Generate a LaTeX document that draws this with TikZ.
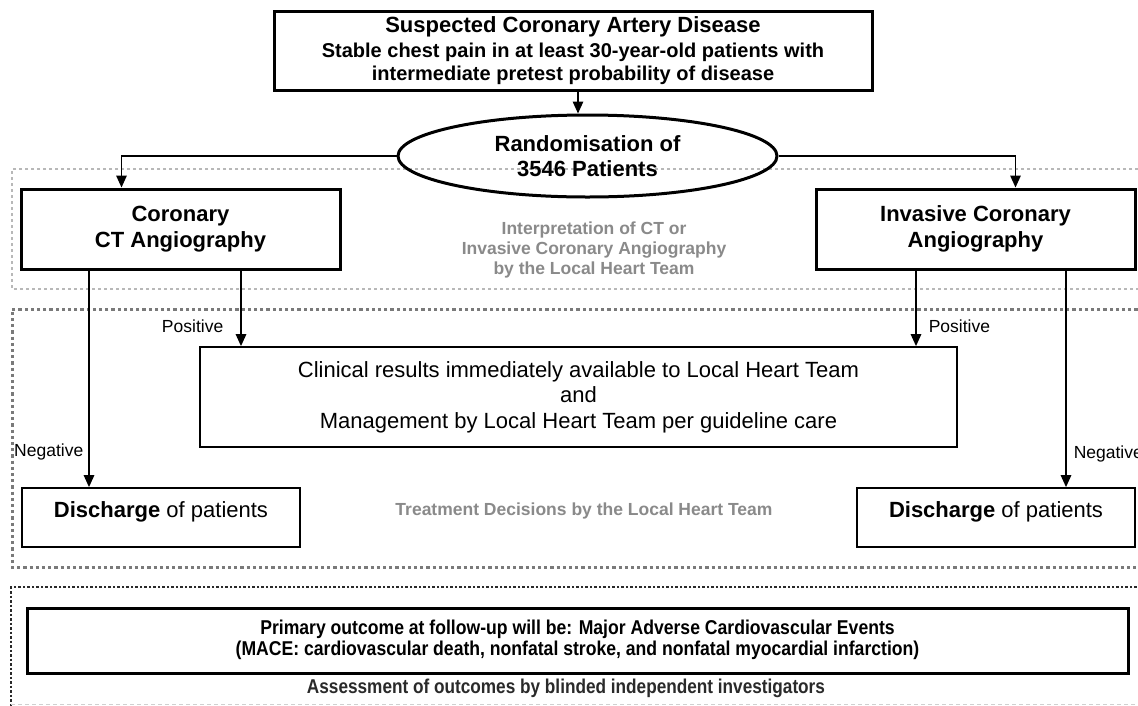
\documentclass[tikz,border=0pt]{standalone}
\usepackage{fontspec}
\setmainfont{Liberation Sans}
\usepackage{graphicx}
\usetikzlibrary{arrows.meta,shapes.geometric}
\definecolor{txtgray}{HTML}{8A8A8A}
\definecolor{lightdot}{HTML}{B8B8B8}
\definecolor{darkdot}{HTML}{7A7A7A}
\definecolor{blackdot}{HTML}{2A2A2A}
\definecolor{faintdash}{HTML}{D0D0D0}
\begin{document}
\begin{tikzpicture}[x=1pt,y=-1pt,
  thickbox/.style={draw, rectangle, line width=3pt, inner sep=0pt, align=center},
  thinbox/.style={draw, rectangle, line width=1.8pt, inner sep=0pt, align=center},
  arr/.style={line width=1.5pt, -{Triangle[length=12pt,width=10.5pt]}},
  lbl/.style={inner sep=0pt, font=\fontsize{17.5}{20}\selectfont},
  graytxt/.style={align=center, text=txtgray, font=\fontsize{17.5}{20}\selectfont\bfseries},
  bigbold/.style={font=\fontsize{22}{26}\selectfont\bfseries}]
\useasboundingbox (0,0) rectangle (1138,705);
\fill[white] (0,0) rectangle (1138,705);

% group frames
\draw[lightdot, line width=2pt, dash pattern=on 3pt off 3pt] (1150,169) -- (12,169) -- (12,289) -- (1150,289);
\draw[darkdot, line width=3pt, dash pattern=on 3.2pt off 3pt] (1150,309) -- (12,309) -- (12,567) -- (1150,567);
\draw[blackdot, line width=2.5pt, dash pattern=on 2.5pt off 2pt] (1150,587) -- (11,587) -- (11,710);
\draw[faintdash, line width=1pt, dash pattern=on 4pt off 3pt] (11,704) -- (1150,704);

% nodes
\node[thickbox, minimum width=598, minimum height=79, font=\fontsize{20}{23}\selectfont\bfseries] (susp) at (573,50.5)
  {{\fontsize{22}{23}\selectfont Suspected Coronary Artery Disease}\\[1.5pt]
   Stable chest pain in at least 30-year-old patients with\\
   intermediate pretest probability of disease};
\node[ellipse, draw, line width=3pt, minimum width=379, minimum height=82, inner sep=0pt,
  align=center, font=\fontsize{22}{25}\selectfont\bfseries] (rnd) at (587.5,156)
  {Randomisation of\\3546 Patients};
\node[thickbox, bigbold, minimum width=319, minimum height=80] (ct) at (180.5,229)
  {Coronary\\CT Angiography};
\node[thickbox, bigbold, minimum width=319, minimum height=80] (ica) at (975.5,229)
  {Invasive Coronary\\Angiography};
\node[graytxt] (interp) at (594,250)
  {Interpretation of CT or\\Invasive Coronary Angiography\\by the Local Heart Team};
\node[thinbox, minimum width=757, minimum height=100, font=\fontsize{22}{25.5}\selectfont] (clin) at (578.5,397)
  {Clinical results immediately available to Local Heart Team\\and\\Management by Local Heart Team per guideline care};
\node[thinbox, minimum width=278, minimum height=59] (dl) at (161,517.5) {};
\node[font=\fontsize{22}{25}\selectfont, inner sep=0pt] (dlt) at ([yshift=6pt]dl.center) {\textbf{Discharge} of patients};
\node[thinbox, minimum width=278, minimum height=59] (dr) at (996,517.5) {};
\node[font=\fontsize{22}{25}\selectfont, inner sep=0pt] (drt) at ([yshift=6pt]dr.center) {\textbf{Discharge} of patients};
\node[graytxt] (treat) at (584,511) {Treatment Decisions by the Local Heart Team};
\node[thickbox, minimum width=1101, minimum height=65] (outc) at (577.5,640.5)
  {\scalebox{0.88}[1]{\fontsize{20}{21}\selectfont\bfseries
   \begin{tabular}{@{}c@{}}Primary outcome at follow-up will be: Major Adverse Cardiovascular Events\\
   (MACE: cardiovascular death, nonfatal stroke, and nonfatal myocardial infarction)\end{tabular}}};
\node[inner sep=0pt, text=blackdot] (assess) at (566,688)
  {\scalebox{0.86}[1]{\fontsize{20}{21}\selectfont\bfseries Assessment of outcomes by blinded independent investigators}};

% connectors
\draw[arr] ([xshift=5pt]susp.south) -- ([xshift=5pt]susp.south |- rnd.north);
\draw[arr] (rnd.west) -| ([xshift=-59pt]ct.north);
\draw[arr] (rnd.east) -| ([xshift=40pt]ica.north);
\draw[arr] ([xshift=-91.5pt]ct.south) -- ([xshift=-91.5pt]ct.south |- dl.north)
  node[lbl, pos=0.84, anchor=east, xshift=-5pt] {Negative};
\draw[arr] ([xshift=60.5pt]ct.south) -- ([xshift=60.5pt]ct.south |- clin.north)
  node[lbl, pos=0.74, anchor=east, xshift=-17pt] {Positive};
\draw[arr] ([xshift=-59.5pt]ica.south) -- ([xshift=-59.5pt]ica.south |- clin.north)
  node[lbl, pos=0.74, anchor=west, xshift=12pt] {Positive};
\draw[arr] ([xshift=90.5pt]ica.south) -- ([xshift=90.5pt]ica.south |- dr.north)
  node[lbl, pos=0.845, anchor=west, xshift=7pt] {Negative};
\end{tikzpicture}
\end{document}
